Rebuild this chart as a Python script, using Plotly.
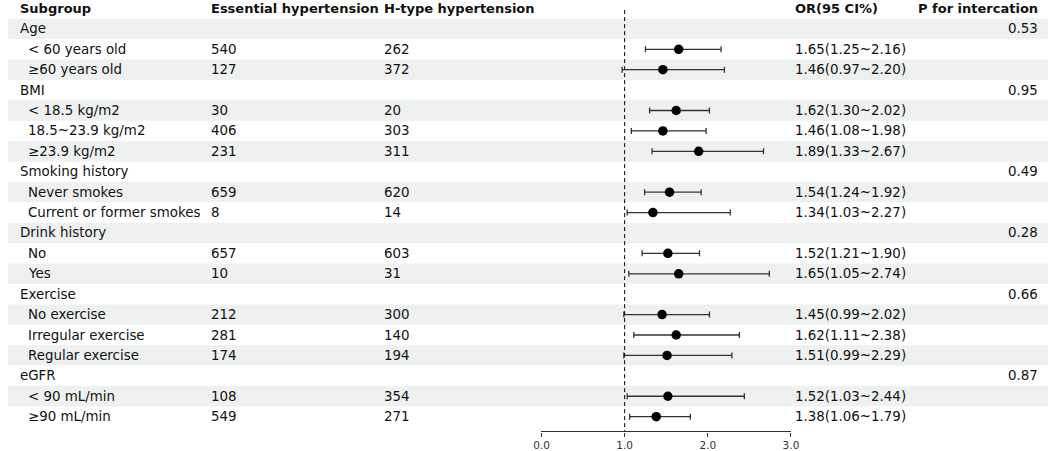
import plotly.graph_objects as go

# ---- data ----
subgroups = [
    "Age", "< 60 years old", "≥60 years old",
    "BMI", "< 18.5 kg/m2", "18.5~23.9 kg/m2", "≥23.9 kg/m2",
    "Smoking history", "Never smokes", "Current or former smokes",
    "Drink history", "No", "Yes",
    "Exercise", "No exercise", "Irregular exercise", "Regular exercise",
    "eGFR", "< 90 mL/min", "≥90 mL/min",
]
is_group = [True, False, False, True, False, False, False, True, False, False,
            True, False, False, True, False, False, False, True, False, False]
essential = ["", "540", "127", "", "30", "406", "231", "", "659", "8",
             "", "657", "10", "", "212", "281", "174", "", "108", "549"]
htype = ["", "262", "372", "", "20", "303", "311", "", "620", "14",
         "", "603", "31", "", "300", "140", "194", "", "354", "271"]
odds = [None, 1.65, 1.46, None, 1.62, 1.46, 1.89, None, 1.54, 1.34,
        None, 1.52, 1.65, None, 1.45, 1.62, 1.51, None, 1.52, 1.38]
ci_low = [None, 1.25, 0.97, None, 1.30, 1.08, 1.33, None, 1.24, 1.03,
          None, 1.21, 1.05, None, 0.99, 1.11, 0.99, None, 1.03, 1.06]
ci_high = [None, 2.16, 2.20, None, 2.02, 1.98, 2.67, None, 1.92, 2.27,
           None, 1.90, 2.74, None, 2.02, 2.38, 2.29, None, 2.44, 1.79]
p_values = ["0.53", "", "", "0.95", "", "", "", "0.49", "", "",
            "0.28", "", "", "0.66", "", "", "", "0.87", "", ""]
headers = ["Subgroup", "Essential hypertension", "H-type hypertension",
           "OR(95 CI%)", "P for intercation"]
tick_vals = [0, 1, 2, 3]

W, H = 1056, 451
FONT = "DejaVu Sans"
n = len(subgroups)
rows = list(range(1, n + 1))  # header sits at row 0

fig = go.Figure()

# alternating row shading
for i, r in enumerate(rows):
    if i % 2 == 0:
        fig.add_shape(type="rect", xref="paper", yref="y", x0=0, x1=1,
                      y0=r - 0.5, y1=r + 0.5, fillcolor="#eef1f0",
                      line_width=0, layer="below")

# reference line at OR = 1
fig.add_shape(type="line", xref="x", yref="y", x0=1, x1=1, y0=0.08, y1=20.72,
              line=dict(color="black", width=1, dash="4px,3px"))

pts = [(r, o, lo, hi) for r, o, lo, hi in zip(rows, odds, ci_low, ci_high) if o is not None]
fig.add_trace(go.Scatter(
    x=[p[1] for p in pts], y=[p[0] for p in pts], mode="markers",
    marker=dict(color="black", size=9.5),
    error_x=dict(type="data", symmetric=False,
                 array=[p[3] - p[1] for p in pts],
                 arrayminus=[p[1] - p[2] for p in pts],
                 color="#333333", thickness=1.3, width=3),
    showlegend=False, hoverinfo="skip",
))


def txt(x, y, s, anchor="left", bold=False):
    fig.add_annotation(x=x, y=y, xref="paper", yref="y", text=s, showarrow=False,
                       xanchor=anchor, yanchor="middle", borderpad=0,
                       font=dict(family=FONT, size=13 if bold else 13.4,
                                 color="#111111",
                                 weight="bold" if bold else "normal"))


col_x = [11.5 / W, 205.5 / W, 381 / W, 798.5 / W]
for x, h in zip(col_x, headers[:4]):
    txt(x, 0, h, bold=True)
txt(1046.5 / W, 0, headers[4], anchor="right", bold=True)

for i, r in enumerate(rows):
    txt(col_x[0] if is_group[i] else 19.5 / W, r, subgroups[i])
    if essential[i]:
        txt(col_x[1], r, essential[i])
    if htype[i]:
        txt(col_x[2], r, htype[i])
    if odds[i] is not None:
        txt(col_x[3], r, f"{odds[i]:.2f}({ci_low[i]:.2f}~{ci_high[i]:.2f})")
    if p_values[i]:
        txt(1046.5 / W, r, p_values[i], anchor="right")

fig.update_layout(
    width=W, height=H,
    margin=dict(l=0, r=0, t=0, b=0),
    paper_bgcolor="white", plot_bgcolor="rgba(0,0,0,0)",
    xaxis=dict(domain=[541.7 / W, 795 / W], range=[0, 3], anchor="free",
               position=(H - 433.3) / H, showgrid=False, zeroline=False,
               showline=True, linecolor="#333333", linewidth=1.3,
               tickvals=tick_vals, ticktext=[f"{v:.1f}" for v in tick_vals],
               ticks="outside", ticklen=4, tickcolor="#333333", tickwidth=1,
               tickfont=dict(family=FONT, size=10.5, color="#333333")),
    yaxis=dict(domain=[0, 1], range=[(H - 8.5) / 20.5, -8.5 / 20.5],
               visible=False, showgrid=False, zeroline=False),
)

# the page body has a default margin; drop it so the figure fills the window
fig.write_html("out.html", config={"displayModeBar": False},
               post_script="document.body.style.margin='0';document.body.style.overflow='hidden';")
